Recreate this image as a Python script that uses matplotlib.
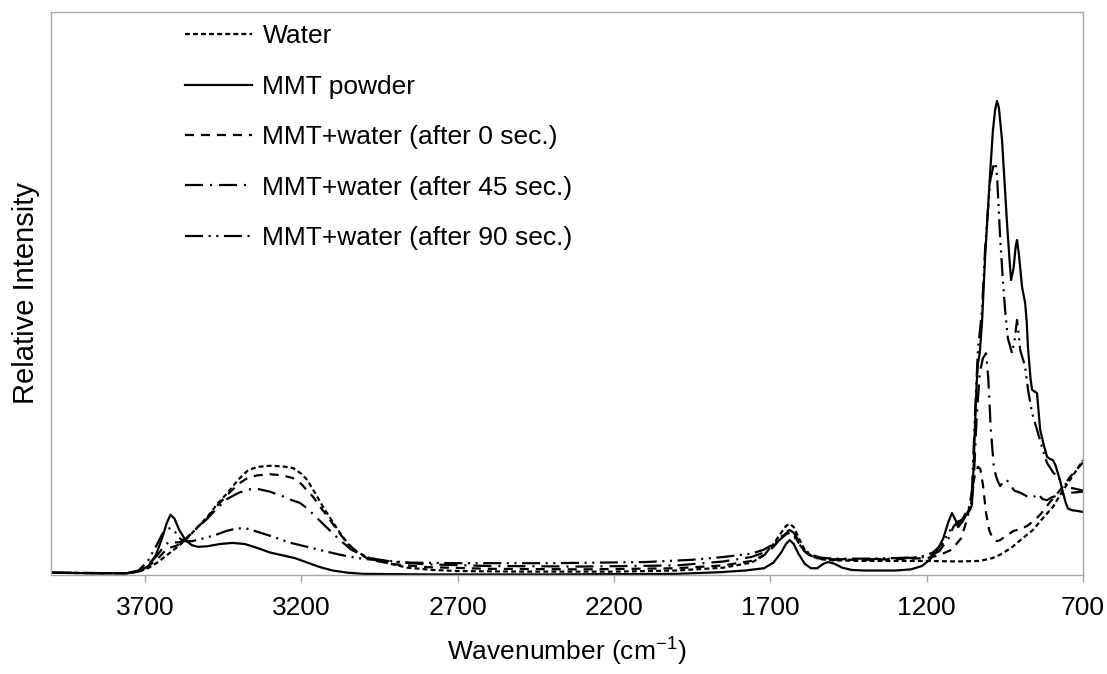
import matplotlib
matplotlib.use("Agg")
import matplotlib.pyplot as plt

plt.rcParams['font.family'] = ['Liberation Sans', 'DejaVu Sans']
plt.rcParams['mathtext.fontset'] = 'custom'
plt.rcParams['mathtext.rm'] = 'Liberation Sans'
plt.rcParams['lines.scale_dashes'] = False

# spectra: wavenumber (cm-1) and relative intensity
powder_wn = [4000, 3850, 3760, 3720, 3690, 3665, 3645, 3630, 3618, 3605, 3590, 3570, 3550, 3530,
             3500, 3460, 3420, 3380, 3340, 3300, 3260, 3220, 3180, 3140, 3100, 3050, 3000, 2800,
             2400, 2000, 1860, 1780, 1720, 1690, 1665, 1650, 1638, 1625, 1610, 1590, 1570, 1550,
             1530, 1515, 1495, 1470, 1440, 1400, 1300, 1250, 1215, 1190, 1165, 1147, 1130, 1119,
             1108, 1099, 1085, 1070, 1061, 1055, 1050, 1045, 1040, 1036, 1030, 1023, 1013, 1005,
             997, 988, 981, 975, 969, 959, 950, 943, 935, 930, 922, 915, 911, 905, 895, 885, 880,
             876, 868, 863, 855, 847, 842, 837, 825, 815, 805, 796, 788, 780, 772, 764, 755, 748,
             735, 720, 700]
powder_int = [0.004, 0.003, 0.003, 0.006, 0.015, 0.035, 0.065, 0.092, 0.107, 0.100, 0.080, 0.062,
              0.053, 0.050, 0.051, 0.055, 0.057, 0.055, 0.048, 0.040, 0.035, 0.030, 0.022, 0.014,
              0.008, 0.004, 0.002, 0.001, 0.001, 0.002, 0.005, 0.008, 0.012, 0.022, 0.040, 0.055,
              0.062, 0.055, 0.038, 0.020, 0.012, 0.012, 0.020, 0.023, 0.020, 0.013, 0.009, 0.008,
              0.008, 0.010, 0.016, 0.027, 0.045, 0.065, 0.095, 0.110, 0.098, 0.085, 0.095, 0.110,
              0.116, 0.125, 0.190, 0.270, 0.340, 0.376, 0.395, 0.448, 0.565, 0.640, 0.714, 0.790,
              0.826, 0.842, 0.830, 0.773, 0.690, 0.625, 0.560, 0.524, 0.545, 0.585, 0.595, 0.570,
              0.512, 0.483, 0.450, 0.405, 0.350, 0.329, 0.326, 0.323, 0.290, 0.258, 0.230, 0.210,
              0.206, 0.204, 0.195, 0.180, 0.165, 0.146, 0.128, 0.118, 0.115, 0.114, 0.112]

water_wn = [4000, 3760, 3720, 3690, 3660, 3630, 3600, 3570, 3540, 3500, 3470, 3437, 3400, 3370,
            3340, 3300, 3260, 3226, 3200, 3181, 3155, 3130, 3100, 3076, 3050, 3021, 2990, 2960,
            2900, 2860, 2780, 2700, 2500, 2200, 2000, 1850, 1760, 1720, 1690, 1665, 1650, 1638,
            1625, 1610, 1590, 1570, 1540, 1500, 1400, 1300, 1200, 1100, 1030, 990, 965, 930, 900,
            860, 830, 796, 770, 740, 700]
water_int = [0.004, 0.003, 0.006, 0.012, 0.022, 0.035, 0.048, 0.062, 0.080, 0.103, 0.125, 0.145,
             0.170, 0.186, 0.192, 0.194, 0.193, 0.190, 0.180, 0.169, 0.145, 0.121, 0.095, 0.075,
             0.055, 0.041, 0.032, 0.026, 0.018, 0.013, 0.009, 0.007, 0.006, 0.006, 0.008, 0.013,
             0.022, 0.035, 0.055, 0.075, 0.087, 0.091, 0.085, 0.067, 0.045, 0.034, 0.028, 0.026,
             0.025, 0.025, 0.025, 0.024, 0.025, 0.030, 0.036, 0.048, 0.062, 0.080, 0.100, 0.121,
             0.145, 0.170, 0.204]

sec0_wn = [4000, 3760, 3720, 3690, 3660, 3640, 3625, 3610, 3590, 3570, 3540, 3500, 3470, 3437,
           3400, 3370, 3340, 3300, 3260, 3226, 3200, 3181, 3162, 3135, 3108, 3080, 3053, 3020,
           2990, 2960, 2900, 2800, 2600, 2300, 2000, 1850, 1760, 1720, 1690, 1665, 1650, 1638,
           1625, 1610, 1590, 1570, 1540, 1500, 1400, 1300, 1200, 1160, 1120, 1090, 1070, 1055,
           1045, 1036, 1028, 1020, 1010, 1000, 990, 975, 965, 945, 923, 900, 879, 860, 837, 805,
           767, 740, 700]
sec0_int = [0.004, 0.003, 0.007, 0.015, 0.028, 0.040, 0.048, 0.050, 0.054, 0.063, 0.080, 0.102,
            0.122, 0.142, 0.162, 0.173, 0.177, 0.179, 0.177, 0.172, 0.162, 0.150, 0.139, 0.118,
            0.098, 0.076, 0.057, 0.040, 0.030, 0.025, 0.019, 0.014, 0.011, 0.010, 0.012, 0.017,
            0.025, 0.035, 0.050, 0.066, 0.074, 0.077, 0.072, 0.058, 0.042, 0.033, 0.029, 0.027,
            0.027, 0.028, 0.030, 0.035, 0.045, 0.065, 0.100, 0.150, 0.180, 0.192, 0.188, 0.160,
            0.110, 0.080, 0.066, 0.060, 0.062, 0.070, 0.078, 0.082, 0.087, 0.095, 0.107, 0.130,
            0.155, 0.175, 0.200]

sec45_wn = [4000, 3760, 3720, 3690, 3660, 3640, 3625, 3610, 3590, 3570, 3540, 3500, 3470, 3437,
            3400, 3370, 3340, 3300, 3260, 3230, 3204, 3180, 3149, 3110, 3076, 3040, 3000, 2960,
            2900, 2800, 2600, 2300, 2000, 1850, 1760, 1720, 1690, 1665, 1650, 1638, 1625, 1610,
            1590, 1570, 1540, 1500, 1400, 1300, 1200, 1160, 1130, 1115, 1100, 1085, 1070, 1058,
            1050, 1040, 1030, 1020, 1010, 1003, 995, 985, 975, 965, 955, 945, 935, 920, 900,
            880, 860, 845, 830, 815, 800, 770, 740, 700]
sec45_int = [0.004, 0.003, 0.007, 0.018, 0.035, 0.050, 0.058, 0.058, 0.058, 0.064, 0.080, 0.100,
             0.118, 0.135, 0.146, 0.152, 0.153, 0.148, 0.140, 0.133, 0.128, 0.118, 0.101, 0.080,
             0.062, 0.045, 0.034, 0.028, 0.023, 0.019, 0.016, 0.015, 0.017, 0.024, 0.032, 0.040,
             0.052, 0.065, 0.072, 0.075, 0.070, 0.057, 0.042, 0.034, 0.030, 0.028, 0.028, 0.029,
             0.032, 0.042, 0.065, 0.085, 0.095, 0.098, 0.110, 0.125, 0.160, 0.280, 0.360, 0.385,
             0.394, 0.350, 0.260, 0.190, 0.170, 0.158, 0.165, 0.170, 0.162, 0.150, 0.146, 0.140,
             0.137, 0.145, 0.135, 0.133, 0.138, 0.143, 0.146, 0.148]

sec90_wn = [4000, 3760, 3720, 3690, 3665, 3645, 3630, 3618, 3605, 3590, 3575, 3550, 3520, 3480,
            3440, 3405, 3370, 3330, 3290, 3240, 3181, 3130, 3076, 3020, 2970, 2900, 2850, 2700,
            2400, 2100, 1950, 1850, 1760, 1720, 1690, 1665, 1650, 1638, 1625, 1610, 1590, 1570,
            1540, 1500, 1400, 1300, 1220, 1180, 1150, 1130, 1115, 1100, 1085, 1070, 1060, 1055,
            1045, 1036, 1023, 1013, 997, 985, 980, 975, 965, 957, 949, 940, 927, 918, 911, 905,
            901, 885, 876, 863, 847, 830, 815, 795, 773, 740, 700]
sec90_int = [0.004, 0.003, 0.008, 0.025, 0.050, 0.072, 0.082, 0.083, 0.078, 0.066, 0.060, 0.060,
             0.064, 0.070, 0.078, 0.083, 0.082, 0.075, 0.068, 0.058, 0.050, 0.043, 0.036, 0.030,
             0.027, 0.024, 0.022, 0.021, 0.021, 0.023, 0.027, 0.032, 0.038, 0.045, 0.055, 0.068,
             0.076, 0.080, 0.075, 0.062, 0.045, 0.036, 0.031, 0.029, 0.029, 0.030, 0.032, 0.040,
             0.055, 0.075, 0.088, 0.090, 0.100, 0.115, 0.125, 0.150, 0.290, 0.400, 0.470, 0.580,
             0.700, 0.730, 0.732, 0.710, 0.600, 0.530, 0.470, 0.420, 0.394, 0.420, 0.453, 0.425,
             0.400, 0.370, 0.330, 0.288, 0.258, 0.225, 0.199, 0.182, 0.169, 0.155, 0.150]

labels = ["Water", "MMT powder", "MMT+water (after 0 sec.)",
          "MMT+water (after 45 sec.)", "MMT+water (after 90 sec.)"]
x_ticks = [3700, 3200, 2700, 2200, 1700, 1200, 700]

fig = plt.figure(figsize=(11.07, 6.74), dpi=100)
ax = fig.add_axes([51 / 1107, 99 / 674, 1032 / 1107, 563 / 674])

lw = 1.6
ax.plot(water_wn, water_int, color='black', lw=lw, dashes=(3.5, 2.3), label=labels[0])
ax.plot(powder_wn, powder_int, color='black', lw=lw, label=labels[1])
ax.plot(sec0_wn, sec0_int, color='black', lw=lw, dashes=(6.5, 5), label=labels[2])
ax.plot(sec45_wn, sec45_int, color='black', lw=lw, dashes=(13, 5, 1.5, 5), label=labels[3])
ax.plot(sec90_wn, sec90_int, color='black', lw=lw,
        dashes=(13, 4, 1.5, 4, 1.5, 4), label=labels[4])

ax.set_xlim(4000, 700)
ax.set_ylim(0, 1)
ax.set_xticks(x_ticks)
ax.set_xticklabels([str(t) for t in x_ticks])
ax.set_yticks([])
ax.tick_params(axis='x', direction='out', length=5, width=1, color='#a6a6a6',
               labelsize=19, pad=10)
for s in ax.spines.values():
    s.set_color('#a6a6a6')
    s.set_linewidth(1)

ax.set_xlabel(r'Wavenumber (cm$^{\mathrm{-1}}$)', fontsize=19, labelpad=10)
ax.set_ylabel('Relative Intensity', fontsize=21, labelpad=8)

leg = ax.legend(loc='upper left', bbox_to_anchor=(0.130, 0.978), frameon=False,
                fontsize=19, handlelength=2.55, handletextpad=0.38, labelspacing=1.0,
                borderpad=0, borderaxespad=0)

fig.savefig('out.png', dpi=100)
